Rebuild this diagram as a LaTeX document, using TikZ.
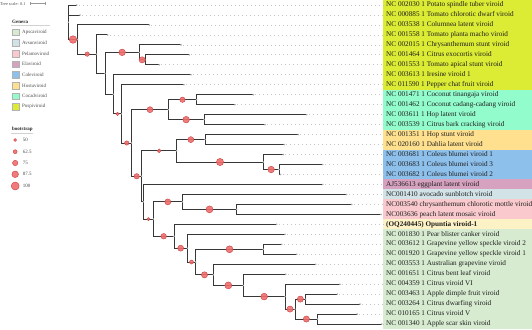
\documentclass[tikz,border=0pt]{standalone}
\usepackage{fontspec}
\setmainfont{Liberation Serif}
\definecolor{cpos}{RGB}{220,235,52}
\definecolor{ccoc}{RGB}{146,252,204}
\definecolor{chos}{RGB}{255,224,142}
\definecolor{ccol}{RGB}{142,192,236}
\definecolor{cela}{RGB}{214,162,192}
\definecolor{cavs}{RGB}{210,227,231}
\definecolor{cpel}{RGB}{249,201,205}
\definecolor{caps}{RGB}{214,235,208}
\definecolor{copu}{RGB}{253,241,198}
\definecolor{brc}{RGB}{55,55,55}
\definecolor{bsfill}{RGB}{240,108,108}
\definecolor{bsdraw}{RGB}{200,65,65}
\definecolor{labc}{RGB}{30,30,30}
\begin{document}
\begin{tikzpicture}[x=1pt,y=-1pt,
  br/.style={draw=brc, line width=0.9pt},
  bs/.style={circle, draw=bsdraw, line width=0.4pt, fill=bsfill, fill opacity=0.9, inner sep=0pt, minimum size=#1},
  dotl/.style={draw=gray!45, line width=0.7pt, dash pattern=on 0.7pt off 3.3pt},
  lab/.style={anchor=west, inner sep=0pt, font=\fontsize{7.2}{8}\selectfont, text height=5pt, text depth=1.6pt, text=labc},
  lt/.style={anchor=west, inner sep=0pt, font=\fontsize{5}{6}\selectfont, text=black!70},
  sw/.style={draw=gray!60, line width=0.3pt, minimum width=6.7pt, minimum height=6.7pt, inner sep=0pt},
  tipdot/.style={fill=gray!65},
]
\useasboundingbox (0,0) rectangle (532,329);
% leaves
\coordinate (l1) at (76.7,5.00);
\coordinate (l2) at (80,14.97);
\coordinate (l3) at (149.3,24.94);
\coordinate (l4) at (107.7,34.91);
\coordinate (l5) at (181,44.88);
\coordinate (l6) at (189.3,54.85);
\coordinate (l7) at (159.3,64.82);
\coordinate (l8) at (191,74.79);
\coordinate (l9) at (184,84.76);
\coordinate (l10) at (253.3,94.73);
\coordinate (l11) at (235,104.70);
\coordinate (l12) at (306.7,114.67);
\coordinate (l13) at (265,124.64);
\coordinate (l14) at (298.3,134.61);
\coordinate (l15) at (284.3,144.58);
\coordinate (l16) at (283.3,154.55);
\coordinate (l17) at (322.7,164.52);
\coordinate (l18) at (280.5,174.49);
\coordinate (l19) at (322.7,184.46);
\coordinate (l20) at (346.5,194.43);
\coordinate (l21) at (351.7,204.40);
\coordinate (l22) at (381,214.37);
\coordinate (l23) at (276.7,224.34);
\coordinate (l24) at (285,234.31);
\coordinate (l25) at (281.7,244.28);
\coordinate (l26) at (296.7,254.25);
\coordinate (l27) at (315.7,264.22);
\coordinate (l28) at (285.7,274.19);
\coordinate (l29) at (340,284.16);
\coordinate (l30) at (337.3,294.13);
\coordinate (l31) at (360,304.10);
\coordinate (l32) at (357.3,314.07);
\coordinate (l33) at (381.7,324.04);
% internal nodes
\coordinate (nA) at (68.3,22.27);
\coordinate (nB) at (77.7,39.535);
\coordinate (nC) at (96.7,54.13);
\coordinate (nD) at (105,73.345);
\coordinate (nE) at (139.3,52.36);
\coordinate (nF) at (145,59.835);
\coordinate (nG) at (113.3,94.33);
\coordinate (nH) at (121.7,113.875);
\coordinate (nL) at (131.7,142.99);
\coordinate (nI) at (168.3,109.685);
\coordinate (nJ) at (196.7,99.715);
\coordinate (nK) at (204,119.655);
\coordinate (nM) at (141.7,176.29);
\coordinate (nN) at (176.7,150.81);
\coordinate (nP) at (205,139.595);
\coordinate (nQ) at (263.3,162.03);
\coordinate (nR) at (279,169.505);
\coordinate (nO) at (143.3,201.77);
\coordinate (nS) at (153.3,219.085);
\coordinate (nT) at (182.3,201.91);
\coordinate (nV) at (236.7,209.385);
\coordinate (nU) at (174,236.26);
\coordinate (nW) at (187.3,248.175);
\coordinate (nX) at (195.7,262.04);
\coordinate (nY) at (263.3,249.265);
\coordinate (nZ) at (213.3,274.815);
\coordinate (nAA) at (243.3,285.41);
\coordinate (nAB) at (285,296.62);
\coordinate (nAC) at (295,309.085);
\coordinate (nAD) at (305.7,299.115);
\coordinate (nAE) at (317.7,319.055);
% genus bands
\fill[cpos] (383.3,0) rectangle (532,89.745);
\fill[ccoc] (383.3,89.745) rectangle (532,129.625);
\fill[chos] (383.3,129.625) rectangle (532,149.565);
\fill[ccol] (383.3,149.565) rectangle (532,179.475);
\fill[cela] (383.3,179.475) rectangle (532,189.445);
\fill[cavs] (383.3,189.445) rectangle (532,199.415);
\fill[cpel] (383.3,199.415) rectangle (532,219.355);
\fill[copu] (383.3,219.355) rectangle (532,229.325);
\fill[caps] (383.3,229.325) rectangle (532,329);
% labels
\node[lab] (t1) at (386,5.00) {NC 002030 1 Potato spindle tuber viroid};
\node[lab] (t2) at (386,14.97) {NC 000885 1 Tomato chlorotic dwarf viroid};
\node[lab] (t3) at (386,24.94) {NC 003538 1 Columnea latent viroid};
\node[lab] (t4) at (386,34.91) {NC 001558 1 Tomato planta macho viroid};
\node[lab] (t5) at (386,44.88) {NC 002015 1 Chrysanthemum stunt viroid};
\node[lab] (t6) at (386,54.85) {NC 001464 1 Citrus exocortis viroid};
\node[lab] (t7) at (386,64.82) {NC 001553 1 Tomato apical stunt viroid};
\node[lab] (t8) at (386,74.79) {NC 003613 1 Iresine viroid 1};
\node[lab] (t9) at (386,84.76) {NC 011590 1 Pepper chat fruit viroid};
\node[lab] (t10) at (386,94.73) {NC 001471 1 Coconut tinangaja viroid};
\node[lab] (t11) at (386,104.70) {NC 001462 1 Coconut cadang-cadang viroid};
\node[lab] (t12) at (386,114.67) {NC 003611 1 Hop latent viroid};
\node[lab] (t13) at (386,124.64) {NC 003539 1 Citrus bark cracking viroid};
\node[lab] (t14) at (386,134.61) {NC 001351 1 Hop stunt viroid};
\node[lab] (t15) at (386,144.58) {NC 020160 1 Dahlia latent viroid};
\node[lab] (t16) at (386,154.55) {NC 003681 1 Coleus blumei viroid 1};
\node[lab] (t17) at (386,164.52) {NC 003683 1 Coleus blumei viroid 3};
\node[lab] (t18) at (386,174.49) {NC 003682 1 Coleus blumei viroid 2};
\node[lab] (t19) at (386,184.46) {AJ536613 eggplant latent viroid};
\node[lab] (t20) at (386,194.43) {NC001410 avocado sunblotch viroid};
\node[lab] (t21) at (386,204.40) {NC003540 chrysanthemum chlorotic mottle viroid};
\node[lab] (t22) at (386,214.37) {NC003636 peach latent mosaic viroid};
\node[lab,font=\bfseries\fontsize{7.2}{8}\selectfont] (t23) at (386,224.34) {(OQ240445) Opuntia viroid-1};
\node[lab] (t24) at (386,234.31) {NC 001830 1 Pear blister canker viroid};
\node[lab] (t25) at (386,244.28) {NC 003612 1 Grapevine yellow speckle viroid 2};
\node[lab] (t26) at (386,254.25) {NC 001920 1 Grapevine yellow speckle viroid 1};
\node[lab] (t27) at (386,264.22) {NC 003553 1 Australian grapevine viroid};
\node[lab] (t28) at (386,274.19) {NC 001651 1 Citrus bent leaf viroid};
\node[lab] (t29) at (386,284.16) {NC 004359 1 Citrus viroid VI};
\node[lab] (t30) at (386,294.13) {NC 003463 1 Apple dimple fruit viroid};
\node[lab] (t31) at (386,304.10) {NC 003264 1 Citrus dwarfing viroid};
\node[lab] (t32) at (386,314.07) {NC 010165 1 Citrus viroid V};
\node[lab] (t33) at (386,324.04) {NC 001340 1 Apple scar skin viroid};
% dotted guides
\foreach \i in {1,...,33} \draw[dotl] ([xshift=2pt]l\i) -- ([xshift=-3pt]t\i.west);
% branches
\foreach \p/\c in {nA/l1,nA/l2,nA/nB,nB/l3,nB/nC,nC/l4,nC/nD,nD/nE,nD/nG,nE/l5,nE/nF,nF/l6,nF/l7,
  nG/l8,nG/nH,nH/l9,nH/nL,nL/nI,nL/nM,nI/nJ,nI/nK,nJ/l10,nJ/l11,nK/l12,nK/l13,nM/nN,nM/nO,
  nN/nP,nN/nQ,nP/l14,nP/l15,nQ/l16,nQ/nR,nR/l17,nR/l18,nO/l19,nO/nS,nS/nT,nS/nU,nT/l20,nT/nV,
  nV/l21,nV/l22,nU/l23,nU/nW,nW/l24,nW/nX,nX/nY,nX/nZ,nY/l25,nY/l26,nZ/l27,nZ/nAA,nAA/l28,
  nAA/nAB,nAB/l29,nAB/nAC,nAC/nAD,nAC/nAE,nAD/l30,nAD/l31,nAE/l32,nAE/l33}
  \draw[br] (\p) |- (\c);
% tip and node dots
\foreach \i in {1,...,33} \fill[tipdot] (l\i) circle (0.9);
\foreach \n in {nA,nB,nC,nD,nE,nF,nG,nH,nL,nI,nJ,nK,nM,nN,nP,nQ,nR,nO,nS,nT,nV,nU,nW,nX,nY,nZ,nAA,nAB,nAC,nAD,nAE}
  \fill[gray!55] (\n) circle (0.8);
% bootstrap symbols
\foreach \p/\c/\s/\k in {nA/nB/7.6/1,nB/nC/4.4/2,nD/nE/6.6/3,nE/nF/6.2/4,nG/nH/3.6/5,nH/nL/4.4/6,
  nL/nI/6.0/7,nL/nM/5.4/8,nI/nJ/5.4/9,nI/nK/6.6/10,nM/nN/3.8/11,nN/nP/6.0/12,nN/nQ/7.2/13,
  nQ/nR/6.6/14,nO/nS/3.2/15,nS/nT/6.0/16,nT/nV/7.0/17,nS/nU/5.6/18,nU/nW/6.0/19,nW/nX/4.0/20,
  nX/nY/7.0/21,nX/nZ/6.2/22,nZ/nAA/7.0/23,nAA/nAB/6.8/24,nAB/nAC/6.2/25,nAC/nAD/6.2/26,nAC/nAE/6.2/27}
  \path (\p) |- (\c) node[bs=\s pt, pos=0.75] (b\k) {};
% tree scale
\node[anchor=west, inner sep=0pt, font=\fontsize{4.3}{5}\selectfont, text=black!70] (ts) at (0,3.6) {Tree scale: 0.1};
\coordinate (tsa) at (30.5,3.6);
\coordinate (tsb) at (45.5,3.6);
\draw[gray!80, line width=0.5pt] (tsa) -- (tsb);
\draw[gray!80, line width=0.5pt] ([yshift=-1.3pt]tsa) -- ([yshift=1.3pt]tsa);
\draw[gray!80, line width=0.5pt] ([yshift=-1.3pt]tsb) -- ([yshift=1.3pt]tsb);
% genus legend
\node[lt, font=\bfseries\fontsize{5}{6}\selectfont, text=black!85] (gt) at (12,21.5) {Genera};
\draw[gray!35, line width=0.7pt] (11,25.6) -- (50,25.6);
\foreach \y/\c/\t/\k in {32.3/caps/Apscaviroid/1,43/cavs/Avsunviroid/2,53.4/cpel/Pelamoviroid/3,
  64/cela/Elaviroid/4,74.7/ccol/Coleviroid/5,85.3/chos/Hostuviroid/6,96/ccoc/Cocadviroid/7,106.7/cpos/Pospiviroid/8}
  {\node[sw, fill=\c] (g\k) at (15.4,\y) {};
   \node[lt] (gl\k) at (22,\y) {\t};}
% bootstrap legend
\node[lt, font=\bfseries\fontsize{5}{6}\selectfont, text=black!85] (bt) at (12,129.3) {bootstrap};
\draw[gray!35, line width=0.7pt] (11,133.2) -- (33,133.2);
\foreach \y/\s/\t/\k in {140/3.0/50/1,151.7/4.0/62.5/2,163/5.4/75/3,174.3/6.6/87.5/4,186/8.0/100/5}
  {\node[bs=\s pt] (bl\k) at (15.2,\y) {};
   \node[lt] (blt\k) at (22.7,\y) {\t};}
\end{tikzpicture}
\end{document}
